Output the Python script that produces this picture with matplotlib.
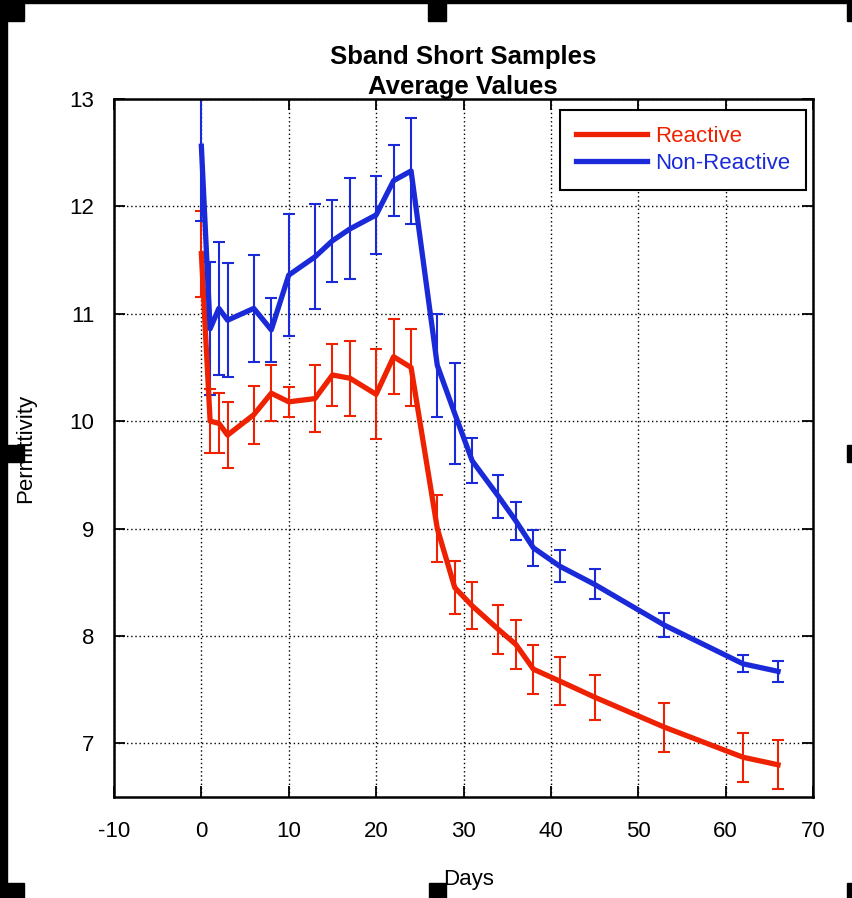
import matplotlib
matplotlib.use("Agg")
import matplotlib.pyplot as plt
from matplotlib.patches import Rectangle
from matplotlib.lines import Line2D

plt.rcParams['font.family'] = ['Liberation Sans', 'DejaVu Sans']
plt.rcParams['axes.unicode_minus'] = False

days = [0, 1, 2, 3, 6, 8, 10, 13, 15, 17, 20, 22, 24, 27, 29, 31, 34, 36, 38, 41, 45, 53, 62, 66]

reactive = [11.56, 10.00, 9.98, 9.87, 10.06, 10.26, 10.18, 10.21, 10.43, 10.40, 10.25, 10.60,
            10.50, 9.00, 8.45, 8.28, 8.06, 7.92, 7.69, 7.58, 7.43, 7.15, 6.87, 6.80]
reactive_err = [0.40, 0.30, 0.28, 0.31, 0.27, 0.26, 0.14, 0.31, 0.29, 0.35, 0.42, 0.35,
                0.36, 0.31, 0.25, 0.22, 0.23, 0.23, 0.23, 0.22, 0.21, 0.23, 0.23, 0.23]

non_reactive = [12.56, 10.86, 11.05, 10.94, 11.05, 10.85, 11.36, 11.53, 11.68, 11.79, 11.92, 12.24,
                12.33, 10.52, 10.07, 9.63, 9.30, 9.07, 8.82, 8.65, 8.48, 8.10, 7.74, 7.67]
non_reactive_err = [0.70, 0.62, 0.62, 0.53, 0.50, 0.30, 0.57, 0.49, 0.38, 0.47, 0.36, 0.33,
                    0.49, 0.48, 0.47, 0.21, 0.20, 0.18, 0.17, 0.15, 0.14, 0.11, 0.08, 0.10]

x_ticks = [-10, 0, 10, 20, 30, 40, 50, 60, 70]
y_ticks = [7, 8, 9, 10, 11, 12, 13]

RED = '#ee2200'
BLUE = '#1a2ad8'
W, H = 852, 898

fig = plt.figure(figsize=(W / 100, H / 100), dpi=100, facecolor='white')
ax = fig.add_axes([114 / W, 1 - 797 / H, (813 - 114) / W, (797 - 99) / H])

handles = []
for vals, errs, col, name in [(reactive, reactive_err, RED, 'Reactive'),
                              (non_reactive, non_reactive_err, BLUE, 'Non-Reactive')]:
    ax.errorbar(days, vals, yerr=errs, color=col, lw=3.8, elinewidth=1.5,
                capsize=4.5, capthick=1.5)
    handles.append(Line2D([], [], color=col, lw=3.8, label=name))

ax.set_xlim(-10, 70)
ax.set_ylim(6.5, 13)
ax.set_xticks(x_ticks)
ax.set_yticks(y_ticks)
ax.grid(True, color='black', linestyle=(0, (1, 2)), linewidth=1.0)
ax.tick_params(direction='in', length=8, width=1.3, top=True, right=True,
               labelsize=16, pad=14)
ax.tick_params(axis='x', pad=17)
for s in ax.spines.values():
    s.set_linewidth(1.8)

ax.set_xlabel('Days', fontsize=16)
ax.xaxis.set_label_coords((469 - 114) / (813 - 114), -(869 - 797) / (797 - 99))
ax.set_ylabel('Permittivity', fontsize=16)
ax.yaxis.set_label_coords(-(114 - 36) / (813 - 114), 0.5)

fig.text(463 / W, 1 - 72 / H, 'Sband Short Samples\nAverage Values', ha='center',
         va='center', fontsize=18.5, fontweight='bold', linespacing=1.35)

leg = ax.legend(handles=handles, loc='upper right', bbox_to_anchor=(806 / W, 1 - 110 / H),
                bbox_transform=fig.transFigure, borderaxespad=0, fontsize=16,
                fancybox=False, edgecolor='black', framealpha=1,
                handlelength=3.2, handletextpad=0.35, labelspacing=0.25, borderpad=0.72)
leg.get_frame().set_linewidth(1.5)
for txt, col in zip(leg.get_texts(), [RED, BLUE]):
    txt.set_color(col)

# black frame bits around the picture
boxes = [(0, 0, W, 3), (0, 0, 7, H),
         (0, 0, 24, 21), (428, 0, 18, 21), (847, 0, 5, 21),
         (0, 445, 24, 17), (847, 445, 5, 17),
         (0, 883, 24, 15), (429, 883, 17, 15), (847, 883, 5, 15)]
for bx, by, bw, bh in boxes:
    fig.patches.append(Rectangle((bx / W, 1 - (by + bh) / H), bw / W, bh / H,
                                 transform=fig.transFigure, color='black', zorder=10))

fig.savefig('out.png', dpi=100, facecolor='white')
